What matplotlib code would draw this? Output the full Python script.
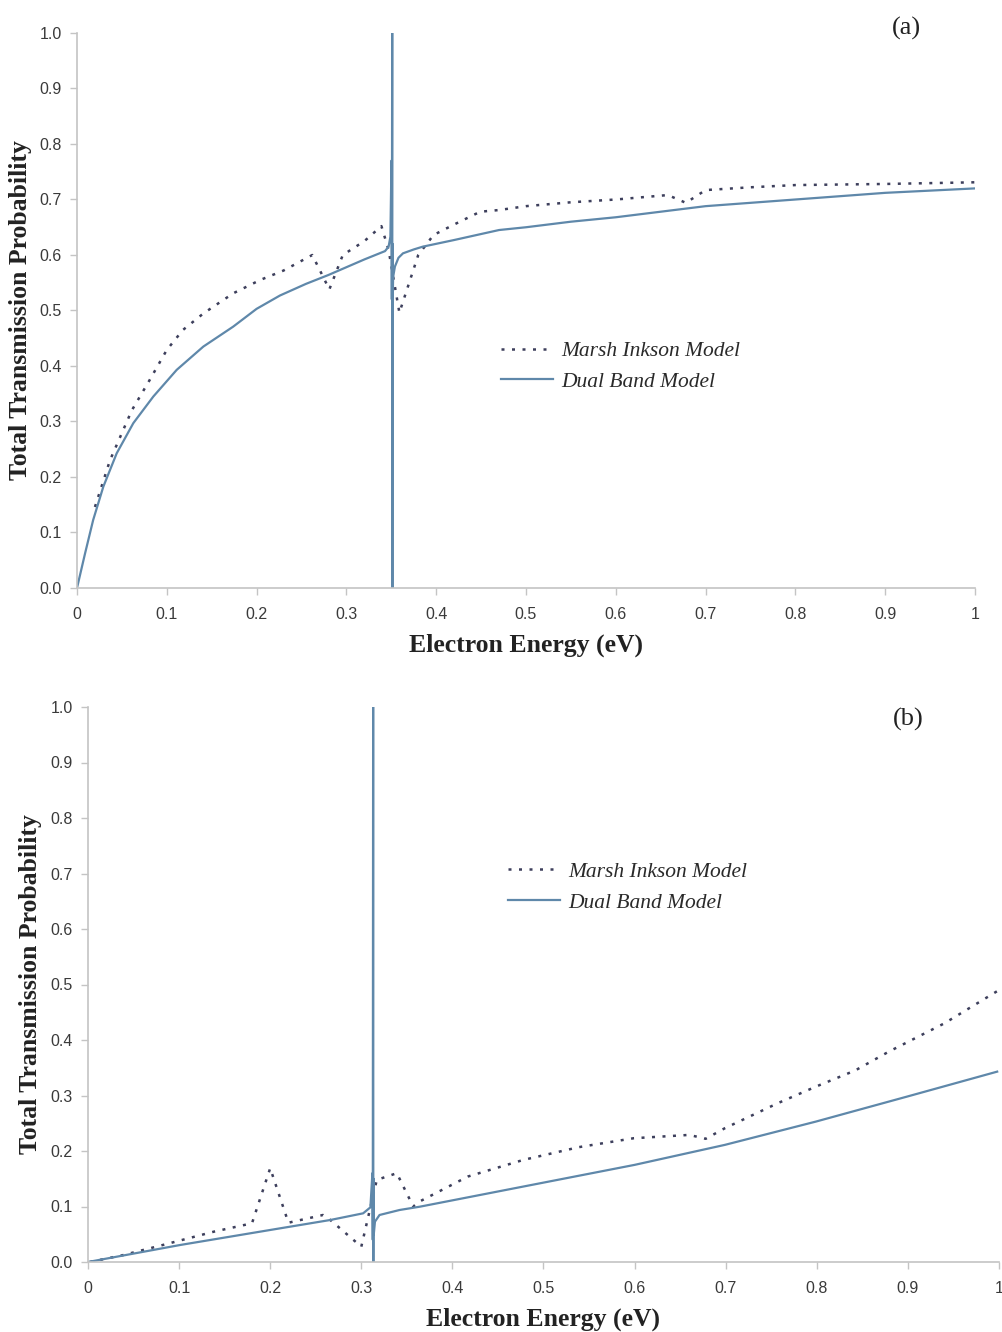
import matplotlib
matplotlib.use("Agg")
import matplotlib.pyplot as plt
from matplotlib.ticker import FixedLocator

# panel (a): transmission vs energy
energy_mi_a = [0.02, 0.0367, 0.061, 0.081, 0.1, 0.118, 0.141, 0.174, 0.204, 0.23, 0.262,
               0.281, 0.296, 0.32, 0.339, 0.347, 0.359, 0.38, 0.397, 0.42, 0.449, 0.47,
               0.5, 0.55, 0.6, 0.658, 0.678, 0.7, 0.75, 0.8, 0.9, 1.0]
trans_mi_a = [0.146, 0.23, 0.32, 0.375, 0.429, 0.465, 0.495, 0.531, 0.555, 0.572, 0.60,
              0.538, 0.60, 0.625, 0.652, 0.609, 0.496, 0.60, 0.636, 0.655, 0.678, 0.681,
              0.688, 0.695, 0.70, 0.708, 0.694, 0.717, 0.722, 0.726, 0.728, 0.731]

energy_db_a = [0.0, 0.009, 0.018, 0.0293, 0.0442, 0.0627, 0.085, 0.111, 0.1407, 0.174,
               0.2, 0.226, 0.255, 0.28, 0.3, 0.32, 0.343, 0.347, 0.349, 0.3502, 0.3506,
               0.351, 0.3512, 0.3514, 0.3516, 0.352, 0.354, 0.358, 0.363, 0.375, 0.385,
               0.42, 0.47, 0.5, 0.55, 0.6, 0.65, 0.7, 0.75, 0.8, 0.85, 0.9, 0.95, 1.0]
trans_db_a = [0.0, 0.0625, 0.1225, 0.1825, 0.2427, 0.297, 0.345, 0.393, 0.435, 0.471,
              0.503, 0.527, 0.548, 0.564, 0.578, 0.592, 0.607, 0.615, 0.633, 0.77, 0.52,
              1.0, 0.0, 0.62, 0.52, 0.56, 0.579, 0.595, 0.603, 0.61, 0.615,
              0.627, 0.645, 0.65, 0.66, 0.668, 0.678, 0.688, 0.694, 0.70, 0.706, 0.712,
              0.716, 0.72]

# panel (b)
energy_mi_b = [0.002, 0.039, 0.083, 0.138, 0.18, 0.2, 0.22, 0.258, 0.266, 0.3, 0.317,
               0.339, 0.357, 0.364, 0.417, 0.478, 0.539, 0.599, 0.66, 0.678, 0.699, 0.757,
               0.799, 0.842, 0.879, 0.94, 1.0]
trans_mi_b = [0.0, 0.0126, 0.031, 0.0546, 0.0697, 0.169, 0.0708, 0.0847, 0.0757, 0.0276,
              0.148, 0.16, 0.10, 0.109, 0.154, 0.184, 0.207, 0.223, 0.229, 0.222, 0.241,
              0.286, 0.316, 0.345, 0.379, 0.43, 0.49]

energy_db_b = [0.0, 0.101, 0.2, 0.266, 0.302, 0.31, 0.3122, 0.3126, 0.313, 0.3132,
               0.3134, 0.3137, 0.315, 0.32, 0.342, 0.3644, 0.478, 0.6, 0.699, 0.799,
               0.899, 0.998]
trans_db_b = [0.0, 0.0306, 0.0577, 0.0757, 0.0877, 0.0985, 0.16, 0.04, 1.0, 0.0,
              0.15, 0.05, 0.0727, 0.0847, 0.0937, 0.0997, 0.136, 0.175, 0.211, 0.253,
              0.298, 0.343]

x_ticks = [0, 0.1, 0.2, 0.3, 0.4, 0.5, 0.6, 0.7, 0.8, 0.9, 1.0]
x_tick_labels = ['0', '0.1', '0.2', '0.3', '0.4', '0.5', '0.6', '0.7', '0.8', '0.9', '1']
y_ticks = [0.0, 0.1, 0.2, 0.3, 0.4, 0.5, 0.6, 0.7, 0.8, 0.9, 1.0]
y_tick_labels = ['%.1f' % v for v in y_ticks]

mi_color = '#3d3f5c'
db_color = '#5f88aa'
axis_grey = '#c4c4c4'
serif = ['Liberation Serif', 'DejaVu Serif']

fig = plt.figure(figsize=(10.03, 13.32), dpi=100)


def style_axes(ax):
    ax.set_xlim(0, 1)
    ax.set_ylim(0, 1)
    for side in ['top', 'right']:
        ax.spines[side].set_visible(False)
    for side in ['left', 'bottom']:
        ax.spines[side].set_color(axis_grey)
        ax.spines[side].set_linewidth(1.2)
    ax.xaxis.set_major_locator(FixedLocator(x_ticks))
    ax.yaxis.set_major_locator(FixedLocator(y_ticks))
    ax.set_xticklabels(x_tick_labels)
    ax.set_yticklabels(y_tick_labels)
    ax.tick_params(axis='both', colors=axis_grey, length=5, width=1.0,
                   labelcolor='#3a3a3a', labelsize=11.5)
    ax.tick_params(axis='x', pad=9)
    ax.tick_params(axis='y', pad=6)
    for lab in ax.get_xticklabels() + ax.get_yticklabels():
        lab.set_family(['Liberation Sans', 'DejaVu Sans'])


def draw_panel(ax, e_mi, t_mi, e_db, t_db, tag, tag_pos, legend_anchor, ylab_x):
    ax.plot(e_mi, t_mi, color=mi_color, lw=1.8, linestyle=(0, (1.2, 3.0)),
            label='Marsh Inkson Model')
    ax.plot(e_db, t_db, color=db_color, lw=1.6, label='Dual Band Model')
    style_axes(ax)
    ax.set_xlabel('Electron Energy (eV)', family=serif, fontweight='bold',
                  fontsize=18.5, color='#222222', labelpad=8)
    ax.set_ylabel('Total Transmission Probability', family=serif, fontweight='bold',
                  fontsize=18.5, color='#222222')
    ax.yaxis.set_label_coords(ylab_x, 0.5)
    ax.text(tag_pos[0], tag_pos[1], tag, transform=ax.transAxes, family=serif,
            fontsize=19, color='#222222', ha='center', va='center')
    leg = ax.legend(loc='upper left', bbox_to_anchor=legend_anchor, frameon=False,
                    handlelength=2.4, handletextpad=0.4, labelspacing=0.5,
                    prop={'family': serif, 'style': 'italic', 'size': 15.5})
    for txt in leg.get_texts():
        txt.set_color('#2a2a2a')


ax_a = fig.add_axes([77 / 1003, 1 - 588 / 1332, 898 / 1003, 555 / 1332])
draw_panel(ax_a, energy_mi_a, trans_mi_a, energy_db_a, trans_db_a, '(a)',
           (0.924, 1.008), (0.451, 0.48), -0.05)

ax_b = fig.add_axes([88 / 1003, 1 - 1262 / 1332, 911 / 1003, 555 / 1332])
draw_panel(ax_b, energy_mi_b, trans_mi_b, energy_db_b, trans_db_b, '(b)',
           (0.90, 0.977), (0.44, 0.756), -0.05)

fig.savefig('out.png', dpi=100, facecolor='white')
